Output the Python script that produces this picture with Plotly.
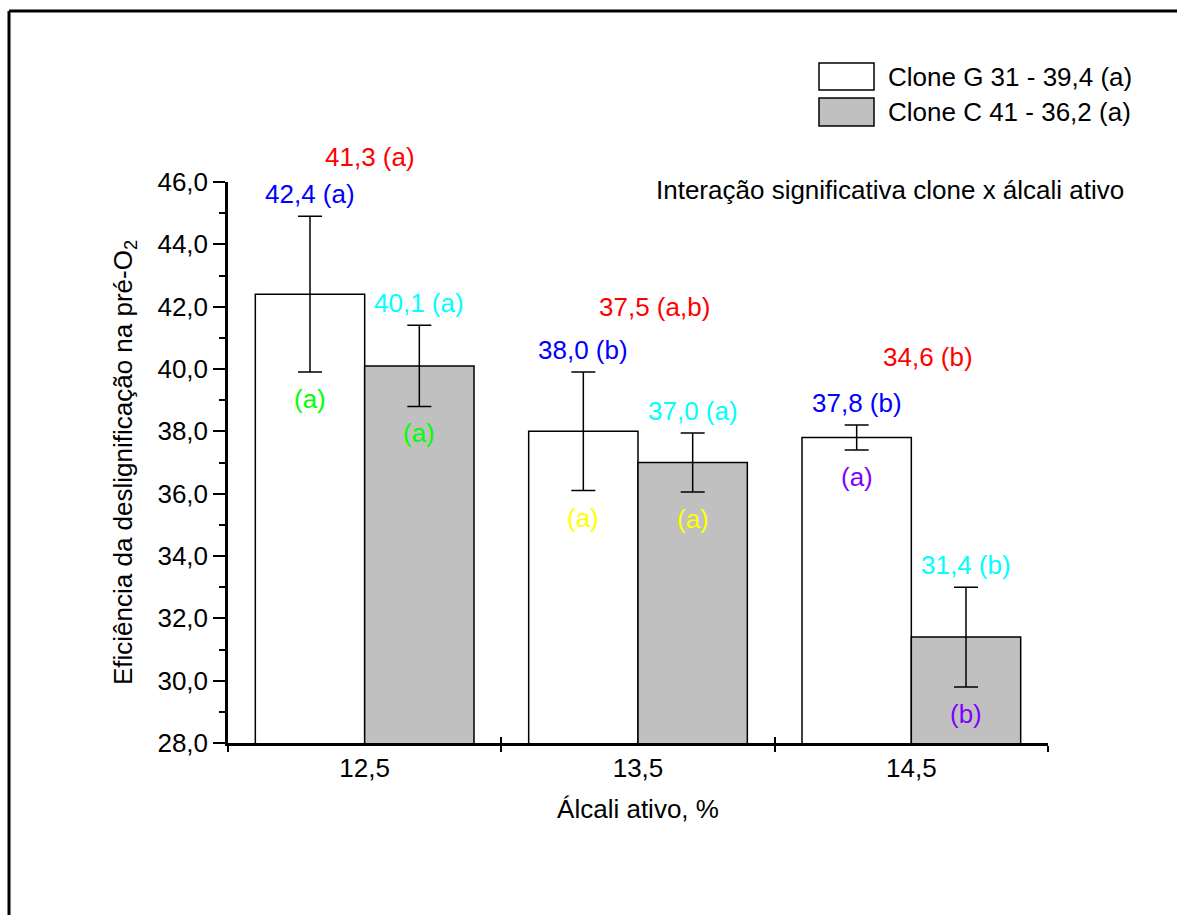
import plotly.graph_objects as go

# Active alkali levels (categories)
alkali = ["12,5", "13,5", "14,5"]

# Delignification efficiency per clone
g31_mean = [42.4, 38.0, 37.8]
g31_err = [2.5, 1.9, 0.4]
c41_mean = [40.1, 37.0, 31.4]
c41_err = [1.3, 0.95, 1.6]

# Letters from the statistical comparison
g31_letter_clone = ["(a)", "(b)", "(b)"]
c41_letter_clone = ["(a)", "(a)", "(b)"]
g31_letter_within = ["(a)", "(a)", "(a)"]
c41_letter_within = ["(a)", "(a)", "(b)"]
within_colors = ["#00FF00", "#FFFF00", "#8000FF"]

# Means per alkali level
level_mean = [41.3, 37.5, 34.6]
level_letter = ["(a)", "(a,b)", "(b)"]

# Overall clone means for the legend
clone_names = ["Clone G 31", "Clone C 41"]
clone_overall = [39.4, 36.2]
clone_overall_letter = ["(a)", "(a)"]

FONT = "Liberation Sans, Arial, sans-serif"
FS = 26
W, H = 1177, 915
L, R, T, B = 228, 129, 182, 172
PW, PH = W - L - R, H - T - B
Y_MIN, Y_MAX = 28, 46


def px_x(px):
    return (px - L) / PW


def px_y(py):
    return (H - B - py) / PH


def fmt(v):
    return f"{v:.1f}".replace(".", ",")


fig = go.Figure()
fig.add_trace(go.Bar(
    x=alkali, y=g31_mean, name=clone_names[0],
    marker=dict(color="white", line=dict(color="black", width=1.5)),
    error_y=dict(type="data", array=g31_err, color="black", thickness=1.5, width=12),
    showlegend=False,
))
fig.add_trace(go.Bar(
    x=alkali, y=c41_mean, name=clone_names[1],
    marker=dict(color="#C0C0C0", line=dict(color="black", width=1.5)),
    error_y=dict(type="data", array=c41_err, color="black", thickness=1.5, width=12),
    showlegend=False,
))
# Empty trace that carries the inner half of the x tick marks
fig.add_trace(go.Scatter(x=alkali, y=[None] * 3, xaxis="x2", showlegend=False,
                         hoverinfo="skip", mode="markers"))

ann = []
for i in range(3):
    # G 31 labels
    ann.append(dict(x=i - 0.2, y=g31_mean[i] + g31_err[i], yshift=22,
                    text=f"{fmt(g31_mean[i])} {g31_letter_clone[i]}",
                    font=dict(color="#0000FF")))
    ann.append(dict(x=i - 0.2, y=g31_mean[i] - g31_err[i], yshift=-27,
                    text=g31_letter_within[i], font=dict(color=within_colors[i])))
    # C 41 labels
    ann.append(dict(x=i + 0.2, y=c41_mean[i] + c41_err[i], yshift=22,
                    text=f"{fmt(c41_mean[i])} {c41_letter_clone[i]}",
                    font=dict(color="#00FFFF")))
    ann.append(dict(x=i + 0.2, y=c41_mean[i] - c41_err[i], yshift=-27,
                    text=c41_letter_within[i], font=dict(color=within_colors[i])))

for a in ann:
    a.update(xref="x", yref="y")

# Level means: the first one sits above the top of the y range, so use paper y
level_pos = [(0.02, 46.8), (1.06, 42.0), (2.06, 40.4)]
for i in range(3):
    ann.append(dict(x=level_pos[i][0], xref="x",
                    y=(level_pos[i][1] - Y_MIN) / (Y_MAX - Y_MIN), yref="paper",
                    text=f"{fmt(level_mean[i])} {level_letter[i]}",
                    font=dict(color="#FF0000")))

for a in ann:
    a.update(showarrow=False, yanchor="middle", xanchor="center")
    a["font"].update(size=FS, family=FONT)

ann.append(dict(xref="paper", yref="paper", x=px_x(1126), y=px_y(190),
                text="Interação significativa clone x álcali ativo", showarrow=False,
                xanchor="right", yanchor="middle",
                font=dict(size=FS, family=FONT, color="black")))

# Legend drawn as boxes and text
shapes = []
legend_fill = ["white", "#C0C0C0"]
legend_rows = [(63, 90), (98, 126)]
for k in range(2):
    y_top, y_bot = legend_rows[k]
    shapes.append(dict(type="rect", xref="paper", yref="paper",
                       x0=px_x(819), x1=px_x(874), y0=px_y(y_bot), y1=px_y(y_top),
                       fillcolor=legend_fill[k], line=dict(color="black", width=1.5)))
    ann.append(dict(xref="paper", yref="paper", x=px_x(886), y=px_y((y_top + y_bot) / 2),
                    text=f"{clone_names[k]} - {fmt(clone_overall[k])} {clone_overall_letter[k]}",
                    showarrow=False, xanchor="left", yanchor="middle",
                    font=dict(size=FS, family=FONT, color="black")))

# Outer frame: only its left and top edges fall on the page
frame = dict(type="line", xref="paper", yref="paper", line=dict(color="black", width=3))
shapes.append(dict(frame, x0=px_x(9), x1=px_x(9), y0=px_y(H + 20), y1=px_y(11)))
shapes.append(dict(frame, x0=px_x(9), x1=px_x(W + 20), y0=px_y(11), y1=px_y(11)))

fig.update_layout(
    width=W, height=H,
    margin=dict(l=L, r=R, t=T, b=B, pad=0),
    paper_bgcolor="white", plot_bgcolor="white",
    separators=",.",
    barmode="group", bargap=0.2, bargroupgap=0,
    font=dict(family=FONT, size=FS, color="black"),
    annotations=ann, shapes=shapes,
    showlegend=False,
    xaxis=dict(
        type="category", range=[-0.5, 2.5], tickson="boundaries",
        ticks="outside", ticklen=6, tickwidth=2, tickcolor="black",
        showline=True, linewidth=2.5, linecolor="black", showgrid=False, zeroline=False,
        tickfont=dict(size=FS, family=FONT),
        title=dict(text="Álcali ativo, %", font=dict(size=FS, family=FONT), standoff=18),
    ),
    xaxis2=dict(
        type="category", range=[-0.5, 2.5], overlaying="x", anchor="y", side="bottom",
        tickson="boundaries", ticks="inside", ticklen=6, tickwidth=2, tickcolor="black",
        showticklabels=False, showline=False, showgrid=False, zeroline=False,
    ),
    yaxis=dict(
        range=[Y_MIN, Y_MAX], dtick=2, tick0=Y_MIN, tickformat=".1f",
        ticks="outside", ticklen=12, tickwidth=2, tickcolor="black",
        minor=dict(dtick=1, ticks="outside", ticklen=6, tickwidth=2, tickcolor="black"),
        showline=True, linewidth=2.5, linecolor="black", showgrid=False, zeroline=False,
        tickfont=dict(size=FS, family=FONT),
        title=dict(text="Eficiência da deslignificação na pré-O<sub>2</sub>",
                   font=dict(size=FS, family=FONT), standoff=18),
    ),
)

fig.write_html("out.html")
